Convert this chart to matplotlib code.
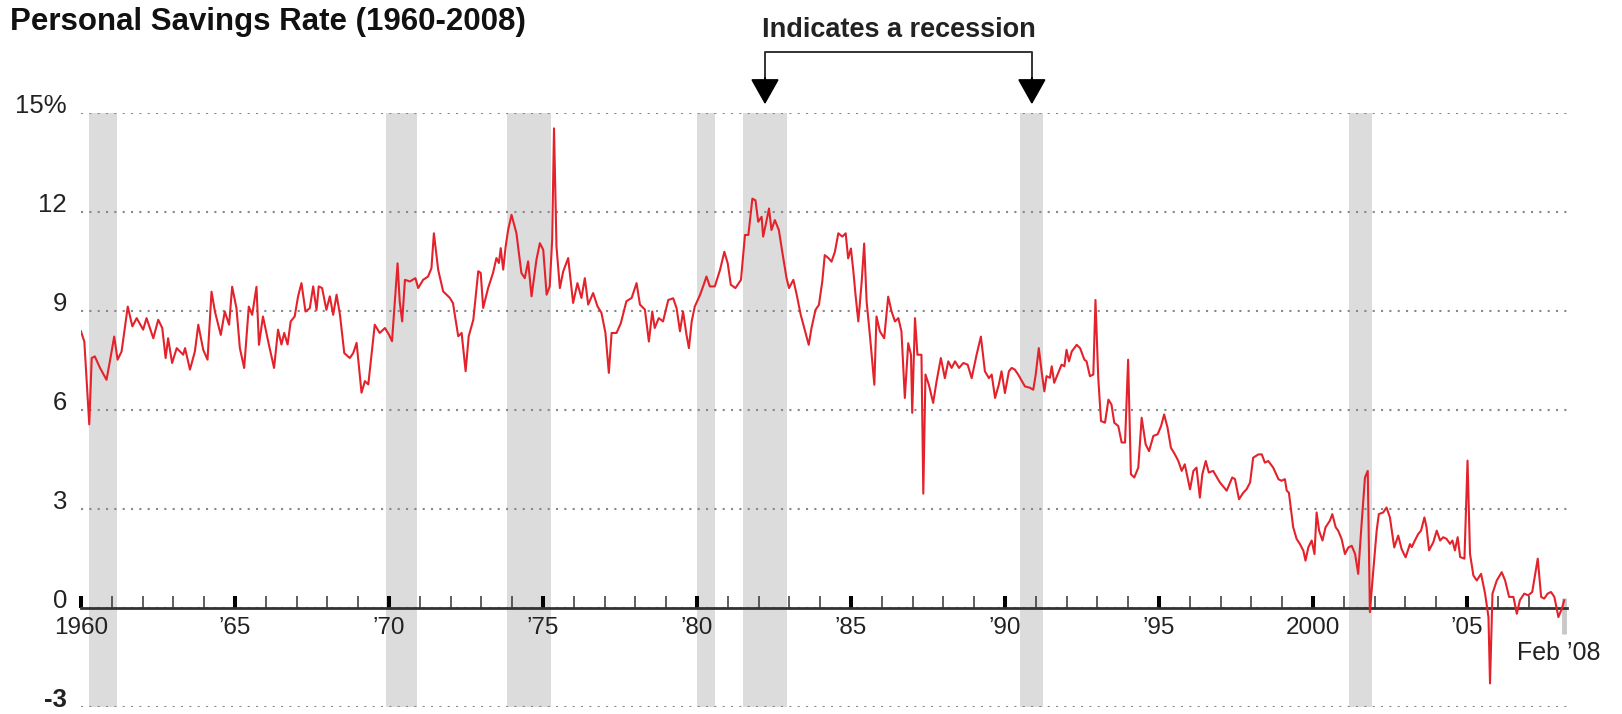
import matplotlib
matplotlib.use('Agg')
import matplotlib.pyplot as plt

# Personal savings rate (decimal year, percent)
years = [
    1960.00, 1960.11, 1960.27, 1960.35, 1960.45, 1960.62, 1960.83, 1960.94, 1961.08, 1961.19,
    1961.32, 1961.52, 1961.67, 1961.81, 1962.02, 1962.13, 1962.35, 1962.51, 1962.64, 1962.75,
    1962.83, 1962.96, 1963.11, 1963.32, 1963.38, 1963.54, 1963.70, 1963.81, 1963.97, 1964.11,
    1964.24, 1964.35, 1964.54, 1964.67, 1964.81, 1964.91, 1965.05, 1965.16, 1965.30, 1965.45,
    1965.56, 1965.70, 1965.78, 1965.91, 1966.08, 1966.27, 1966.40, 1966.51, 1966.60, 1966.71,
    1966.81, 1966.94, 1967.05, 1967.16, 1967.29, 1967.43, 1967.54, 1967.65, 1967.72, 1967.83,
    1967.97, 1968.08, 1968.19, 1968.30, 1968.41, 1968.55, 1968.73, 1968.84, 1968.95, 1969.11,
    1969.22, 1969.33, 1969.54, 1969.70, 1969.87, 1970.00, 1970.10, 1970.28, 1970.35, 1970.43,
    1970.52, 1970.68, 1970.86, 1970.95, 1971.11, 1971.27, 1971.38, 1971.46, 1971.60, 1971.76,
    1971.98, 1972.08, 1972.25, 1972.36, 1972.49, 1972.59, 1972.74, 1972.90, 1972.98, 1973.06,
    1973.22, 1973.38, 1973.49, 1973.57, 1973.63, 1973.71, 1973.79, 1973.87, 1973.98, 1974.14,
    1974.30, 1974.41, 1974.52, 1974.63, 1974.79, 1974.90, 1975.01, 1975.12, 1975.22, 1975.30,
    1975.36, 1975.44, 1975.55, 1975.66, 1975.82, 1975.98, 1976.12, 1976.25, 1976.36, 1976.47,
    1976.63, 1976.77, 1976.90, 1977.03, 1977.14, 1977.23, 1977.39, 1977.53, 1977.71, 1977.88,
    1978.04, 1978.15, 1978.31, 1978.44, 1978.55, 1978.63, 1978.76, 1978.90, 1979.07, 1979.23,
    1979.34, 1979.45, 1979.55, 1979.66, 1979.74, 1979.83, 1979.93, 1980.10, 1980.20, 1980.31,
    1980.42, 1980.58, 1980.75, 1980.89, 1981.00, 1981.10, 1981.25, 1981.43, 1981.56, 1981.67,
    1981.80, 1981.90, 1981.99, 1982.10, 1982.15, 1982.23, 1982.34, 1982.42, 1982.53, 1982.66,
    1982.77, 1982.91, 1982.99, 1983.13, 1983.23, 1983.37, 1983.50, 1983.63, 1983.72, 1983.85,
    1983.96, 1984.07, 1984.15, 1984.28, 1984.37, 1984.48, 1984.59, 1984.72, 1984.83, 1984.91,
    1985.00, 1985.08, 1985.15, 1985.24, 1985.35, 1985.43, 1985.51, 1985.62, 1985.76, 1985.83,
    1985.94, 1986.08, 1986.21, 1986.32, 1986.43, 1986.54, 1986.64, 1986.75, 1986.86, 1986.95,
    1986.99, 1987.08, 1987.16, 1987.29, 1987.35, 1987.42, 1987.53, 1987.67, 1987.78, 1987.92,
    1988.05, 1988.16, 1988.27, 1988.38, 1988.51, 1988.65, 1988.79, 1988.92, 1989.08, 1989.22,
    1989.35, 1989.48, 1989.57, 1989.68, 1989.80, 1989.89, 1990.00, 1990.13, 1990.22, 1990.32,
    1990.43, 1990.65, 1990.81, 1990.92, 1991.00, 1991.10, 1991.19, 1991.28, 1991.35, 1991.46,
    1991.52, 1991.60, 1991.73, 1991.84, 1991.93, 1992.00, 1992.08, 1992.17, 1992.33, 1992.44,
    1992.58, 1992.65, 1992.76, 1992.87, 1992.94, 1993.03, 1993.12, 1993.25, 1993.36, 1993.46,
    1993.55, 1993.68, 1993.79, 1993.90, 1994.00, 1994.09, 1994.20, 1994.33, 1994.44, 1994.57,
    1994.68, 1994.82, 1994.96, 1995.07, 1995.17, 1995.28, 1995.39, 1995.52, 1995.63, 1995.74,
    1995.84, 1996.01, 1996.12, 1996.22, 1996.33, 1996.41, 1996.52, 1996.62, 1996.76, 1996.98,
    1997.20, 1997.38, 1997.47, 1997.60, 1997.74, 1997.85, 1997.96, 1998.06, 1998.23, 1998.34,
    1998.44, 1998.55, 1998.71, 1998.88, 1998.98, 1999.09, 1999.15, 1999.22, 1999.36, 1999.47,
    1999.58, 1999.69, 1999.76, 1999.85, 1999.96, 2000.05, 2000.12, 2000.20, 2000.31, 2000.41,
    2000.55, 2000.63, 2000.74, 2000.82, 2000.93, 2001.04, 2001.15, 2001.26, 2001.37, 2001.47,
    2001.58, 2001.69, 2001.78, 2001.85, 2001.96, 2002.07, 2002.14, 2002.28, 2002.39, 2002.50,
    2002.64, 2002.77, 2002.88, 2003.01, 2003.15, 2003.21, 2003.31, 2003.42, 2003.51, 2003.62,
    2003.69, 2003.77, 2003.91, 2004.02, 2004.13, 2004.23, 2004.34, 2004.45, 2004.53, 2004.61,
    2004.70, 2004.78, 2004.92, 2005.02, 2005.10, 2005.21, 2005.32, 2005.46, 2005.59, 2005.70,
    2005.75, 2005.83, 2005.97, 2006.13, 2006.24, 2006.37, 2006.51, 2006.62, 2006.72, 2006.86,
    2006.99, 2007.12, 2007.30, 2007.41, 2007.51, 2007.62, 2007.73, 2007.84, 2007.97, 2008.08,
    2008.16,
]
rate = [
    8.37, 8.06, 5.55, 7.56, 7.61, 7.26, 6.90, 7.46, 8.21, 7.51,
    7.76, 9.12, 8.52, 8.77, 8.42, 8.77, 8.16, 8.72, 8.47, 7.56,
    8.16, 7.41, 7.86, 7.66, 7.86, 7.21, 7.76, 8.57, 7.81, 7.51,
    9.57, 8.97, 8.26, 8.97, 8.57, 9.72, 9.07, 7.86, 7.26, 9.12,
    8.87, 9.72, 7.96, 8.82, 8.06, 7.26, 8.42, 7.97, 8.32, 7.97,
    8.67, 8.82, 9.43, 9.83, 8.97, 9.07, 9.73, 9.02, 9.73, 9.68,
    9.02, 9.43, 8.87, 9.48, 8.87, 7.71, 7.56, 7.71, 8.02, 6.51,
    6.86, 6.76, 8.57, 8.32, 8.47, 8.27, 8.07, 10.43, 9.27, 8.67,
    9.93, 9.88, 9.98, 9.68, 9.93, 10.03, 10.28, 11.34, 10.23, 9.58,
    9.38, 9.22, 8.22, 8.32, 7.16, 8.22, 8.72, 10.19, 10.14, 9.08,
    9.68, 10.14, 10.59, 10.44, 10.89, 10.24, 10.94, 11.44, 11.90, 11.34,
    10.14, 9.98, 10.49, 9.43, 10.54, 11.04, 10.84, 9.48, 9.73, 11.14,
    14.52, 10.94, 9.68, 10.19, 10.59, 9.23, 9.83, 9.38, 9.98, 9.18,
    9.53, 9.13, 8.93, 8.32, 7.11, 8.32, 8.32, 8.62, 9.28, 9.38,
    9.83, 9.18, 9.03, 8.06, 8.97, 8.47, 8.77, 8.67, 9.32, 9.37,
    9.07, 8.37, 8.97, 8.27, 7.86, 8.67, 9.12, 9.47, 9.73, 10.03,
    9.73, 9.73, 10.23, 10.78, 10.43, 9.78, 9.68, 9.93, 11.29, 11.29,
    12.39, 12.34, 11.69, 11.84, 11.24, 11.59, 12.09, 11.44, 11.74, 11.44,
    10.78, 9.98, 9.68, 9.93, 9.52, 8.87, 8.42, 7.96, 8.47, 9.02,
    9.17, 9.88, 10.68, 10.58, 10.48, 10.78, 11.34, 11.24, 11.34, 10.58,
    10.88, 10.18, 9.47, 8.67, 9.88, 11.03, 9.27, 8.21, 6.75, 8.82,
    8.37, 8.16, 9.42, 8.97, 8.67, 8.77, 8.37, 6.35, 8.01, 7.66,
    5.90, 8.77, 7.66, 7.66, 3.45, 7.06, 6.75, 6.20, 6.85, 7.56,
    6.95, 7.46, 7.26, 7.46, 7.26, 7.41, 7.36, 6.95, 7.66, 8.21,
    7.16, 6.95, 7.06, 6.35, 6.75, 7.16, 6.50, 7.16, 7.26, 7.21,
    7.06, 6.70, 6.66, 6.60, 7.06, 7.86, 7.16, 6.55, 7.01, 6.96,
    7.31, 6.81, 7.11, 7.36, 7.31, 7.81, 7.46, 7.76, 7.96, 7.86,
    7.51, 7.46, 7.01, 7.06, 9.32, 6.96, 5.65, 5.60, 6.30, 6.15,
    5.60, 5.50, 5.00, 5.00, 7.51, 4.04, 3.94, 4.24, 5.75, 4.94,
    4.74, 5.20, 5.25, 5.50, 5.85, 5.45, 4.84, 4.64, 4.44, 4.14,
    4.34, 3.58, 4.14, 4.24, 3.33, 4.04, 4.44, 4.09, 4.14, 3.79,
    3.54, 3.94, 3.89, 3.28, 3.48, 3.59, 3.79, 4.54, 4.64, 4.64,
    4.39, 4.44, 4.24, 3.89, 3.84, 3.89, 3.54, 3.48, 2.43, 2.08,
    1.92, 1.72, 1.42, 1.82, 2.03, 1.62, 2.88, 2.33, 2.03, 2.43,
    2.63, 2.83, 2.43, 2.33, 2.08, 1.62, 1.82, 1.87, 1.62, 1.02,
    2.53, 3.94, 4.14, -0.14, 1.12, 2.33, 2.83, 2.88, 3.03, 2.73,
    1.82, 2.18, 1.77, 1.52, 1.92, 1.83, 2.03, 2.23, 2.33, 2.73,
    2.43, 1.73, 1.98, 2.33, 2.03, 2.13, 2.08, 1.93, 2.03, 1.73,
    2.13, 1.53, 1.48, 4.45, 1.63, 0.97, 0.82, 1.02, 0.42, -0.29,
    -2.30, 0.42, 0.82, 1.07, 0.82, 0.32, 0.32, -0.19, 0.22, 0.42,
    0.37, 0.47, 1.48, 0.32, 0.27, 0.42, 0.47, 0.32, -0.29, -0.04,
    0.22,
]

# Recessions (shaded)
rec_start = [1960.25, 1969.92, 1973.83, 1980.00, 1981.50, 1990.50, 2001.17]
rec_end = [1961.17, 1970.92, 1975.25, 1980.58, 1982.92, 1991.25, 2001.92]

ytick_vals = [-3, 0, 3, 6, 9, 12, 15]
ytick_text = ['-3', '0', '3', '6', '9', '12', '15%']
major_years = [1960, 1965, 1970, 1975, 1980, 1985, 1990, 1995, 2000, 2005]
major_text = ['1960', '’65', '’70', '’75', '’80', '’85', '’90', '’95', '2000', '’05']
minor_years = [y for y in range(1961, 2008) if y % 5 != 0]

plt.rcParams['font.family'] = ['Liberation Sans', 'DejaVu Sans']

fig = plt.figure(figsize=(16.22, 7.14), dpi=100)
ax = fig.add_axes([0.0499, 0.0105, 0.9162, 0.8319])

for s, e in zip(rec_start, rec_end):
    ax.axvspan(s, e, color='#dcdcdc', lw=0, zorder=0)

ax.plot(years, rate, color='#e4222b', lw=1.5, zorder=3, solid_joinstyle='round')

ax.set_xlim(1960, 2008.25)
ax.set_ylim(-3, 15)

# axes style
for side in ['left', 'right', 'top']:
    ax.spines[side].set_visible(False)
ax.spines['bottom'].set_position(('data', 0))
ax.spines['bottom'].set_color('#333333')
ax.spines['bottom'].set_linewidth(2.0)

ax.set_yticks(ytick_vals)
ax.set_yticklabels(ytick_text, fontsize=18.5, color='#222222')
ax.tick_params(axis='y', length=0, pad=10)
for lab in ax.get_yticklabels():
    lab.set_verticalalignment('baseline')
    if lab.get_text() == '-3':
        lab.set_fontweight('bold')
ax.yaxis.grid(True, linestyle=(0, (1, 3)), color='#888888', lw=1.5, zorder=1)

ax.set_xticks(major_years)
ax.set_xticklabels(major_text, fontsize=17.5, color='#222222')
ax.set_xticks(minor_years, minor=True)
ax.tick_params(axis='x', which='major', direction='in', length=8.6, width=2.9, color='black', pad=7)
ax.tick_params(axis='x', which='minor', direction='in', length=8.6, width=1.1, color='#333333')

# end marker + label
ax.plot([years[-1], years[-1]], [0.3, -0.8], color='#c8c8c8', lw=3.5, solid_capstyle='butt', zorder=2)
ax.annotate('Feb ’08', xy=(years[-1], -1.0), xytext=(-4, 0), textcoords='offset points',
            ha='center', va='top', fontsize=18, color='#222222')

# recession annotation bracket
x_left = (rec_start[4] + rec_end[4]) / 2
x_right = (rec_start[5] + rec_end[5]) / 2
ax.plot([x_left, x_left, x_right, x_right], [16.0, 16.83, 16.83, 16.0],
        color='#333333', lw=1.4, clip_on=False)
for xa in [x_left, x_right]:
    ax.annotate('', xy=(xa, 15.25), xytext=(xa, 16.05), annotation_clip=False,
                arrowprops=dict(arrowstyle='-|>,head_length=0.8,head_width=0.45', mutation_scale=20,
                                color='black', lw=1.4, shrinkA=0, shrinkB=0))
ax.text((x_left + x_right) / 2, 17.28, 'Indicates a recession', ha='center', va='baseline',
        fontsize=19.5, fontweight='bold', color='#222222', clip_on=False)

fig.text(10 / 1622, 1 - 30 / 714, 'Personal Savings Rate (1960-2008)', fontsize=22.5,
         fontweight='bold', color='#111111', va='baseline')

fig.savefig('out.png', dpi=100)
